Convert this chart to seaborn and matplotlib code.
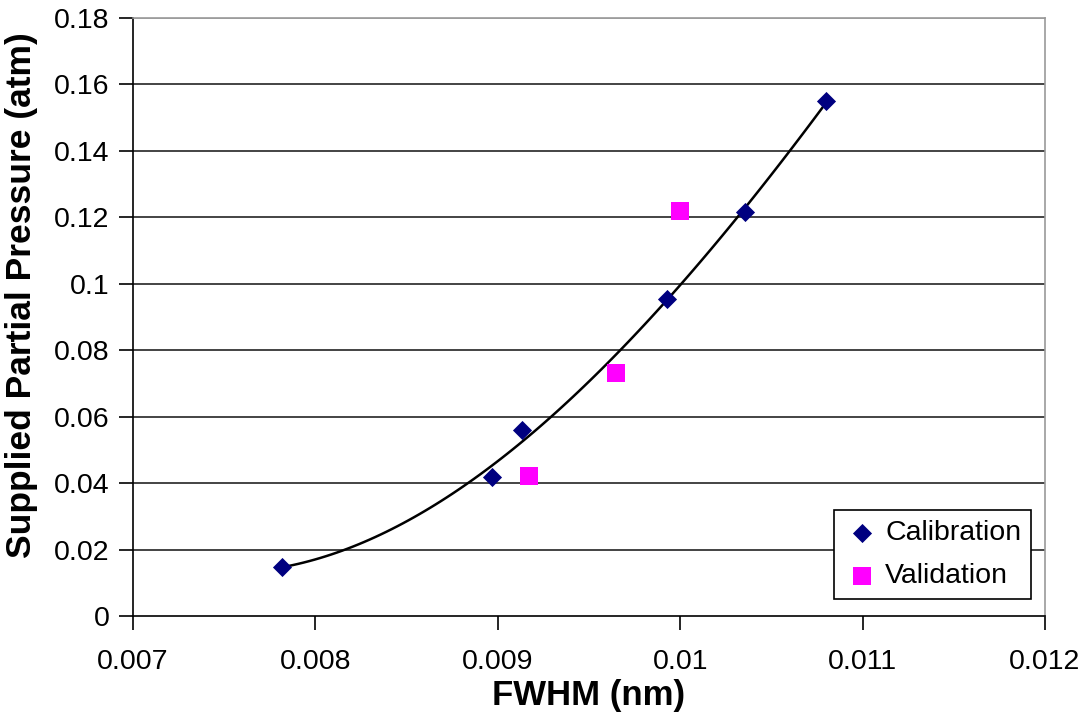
import numpy as np
import pandas as pd
import matplotlib
matplotlib.use("Agg")
import matplotlib.pyplot as plt
import seaborn as sns

# calibration points (navy diamonds)
cal_fwhm = [0.007815, 0.00897, 0.00913, 0.009926, 0.010355, 0.01080]
cal_pp = [0.0148, 0.0419, 0.056, 0.0953, 0.1217, 0.155]

# validation points (magenta squares)
val_fwhm = [0.00917, 0.00965, 0.01000]
val_pp = [0.042, 0.073, 0.122]

x_ticks = [0.007, 0.008, 0.009, 0.01, 0.011, 0.012]
x_labels = ["0.007", "0.008", "0.009", "0.01", "0.011", "0.012"]
y_ticks = [0, 0.02, 0.04, 0.06, 0.08, 0.1, 0.12, 0.14, 0.16, 0.18]
y_labels = ["0", "0.02", "0.04", "0.06", "0.08", "0.1", "0.12", "0.14", "0.16", "0.18"]

sns.set_style("white")
plt.rcParams['font.family'] = ['Liberation Sans', 'DejaVu Sans']
plt.rcParams['text.color'] = 'black'
plt.rcParams['axes.labelcolor'] = 'black'

cal = pd.DataFrame({"fwhm": cal_fwhm, "pp": cal_pp})
val = pd.DataFrame({"fwhm": val_fwhm, "pp": val_pp})

fig = plt.figure(figsize=(10.89, 7.2), dpi=100)
ax = fig.add_axes([133/1089, 1 - 616/720, (1045-133)/1089, (616-18)/720])

# gridlines
for yt in y_ticks[1:-1]:
    ax.axhline(yt, color="#111111", lw=1.1, zorder=0)
ax.axhline(0.18, color="#999999", lw=1.1, zorder=0)

# polynomial trendline through calibration data
sns.regplot(data=cal, x="fwhm", y="pp", order=3, ci=None, scatter=False,
            truncate=True, color="black", line_kws={"lw": 1.8}, ax=ax)

sns.scatterplot(data=cal, x="fwhm", y="pp", marker="D", s=95, color="#000080",
                linewidth=0, ax=ax, label="Calibration", zorder=3)
sns.scatterplot(data=val, x="fwhm", y="pp", marker="s", s=150, color="#FF00FF",
                linewidth=0, ax=ax, label="Validation", zorder=3)

ax.set_xlim(0.007, 0.012)
ax.set_ylim(0, 0.18)
ax.set_xticks(x_ticks)
ax.set_xticklabels(x_labels)
ax.set_yticks(y_ticks)
ax.set_yticklabels(y_labels)
ax.tick_params(axis="both", direction="out", length=10, width=1.2, color="black",
               labelsize=20.5, labelcolor="black", left=True, bottom=True)
ax.tick_params(axis="y", pad=7)
ax.tick_params(axis="x", pad=14)

for side in ["left", "bottom"]:
    ax.spines[side].set_color("black")
    ax.spines[side].set_linewidth(1.2)
for side in ["top", "right"]:
    ax.spines[side].set_color("#999999")
    ax.spines[side].set_linewidth(1.2)

ax.set_xlabel("FWHM (nm)", fontsize=25, fontweight="bold")
ax.set_ylabel("Supplied Partial Pressure (atm)", fontsize=25.5, fontweight="bold")
ax.xaxis.set_label_coords(0.5, -0.106)
ax.yaxis.set_label_coords(-0.104, 0.537)

leg = ax.legend(loc="lower right", bbox_to_anchor=(0.985, 0.028), fontsize=20.5,
                frameon=True, fancybox=False, framealpha=1, edgecolor="black",
                handletextpad=0.15, borderpad=0.35, labelspacing=0.6, handlelength=1.3,
                borderaxespad=0)
leg.get_frame().set_linewidth(1.2)

fig.savefig("out.png", dpi=100, facecolor="white")
